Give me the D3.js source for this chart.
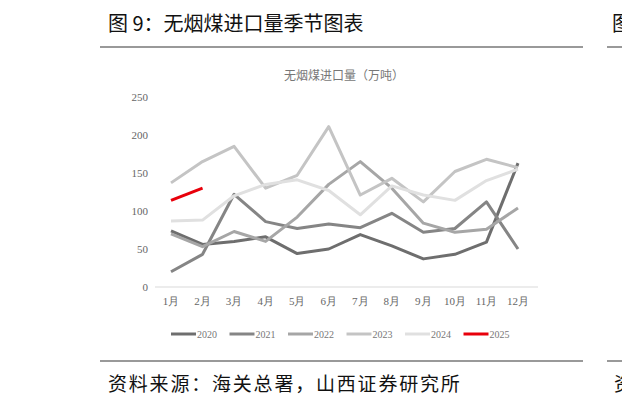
<!DOCTYPE html>
<html><head><meta charset="utf-8">
<script src="https://cdn.jsdelivr.net/npm/d3@7"></script>
<style>body{margin:0;background:#fff;}</style>
</head><body><div id="chart"></div>
<script>
var months = ["1月","2月","3月","4月","5月","6月","7月","8月","9月","10月","11月","12月"];
var years = ["2020","2021","2022","2023","2024","2025"];
var colors = ["#6e6e6e","#858585","#a6a6a6","#c4c4c4","#e0e0e0","#e8000b"];
var v2020 = [74,56,60,66,44,50,69,54,37,43,59,163];
var v2021 = [20,43,122,86,77,83,78,97,72,77,112,50];
var v2022 = [70,53,73,60,92,135,165,130,84,72,76,104];
var v2023 = [137,165,185,130,147,211,121,143,112,152,168,157];
var v2024 = [87,88,120,135,141,127,95,133,121,114,140,155];
var v2025 = [114,130];
var yTicks = [0,50,100,150,200,250];
var series = [v2020,v2021,v2022,v2023,v2024,v2025];

var svg = d3.select("#chart").append("svg").attr("width",622).attr("height",406);
var font = "'Noto Sans CJK SC', sans-serif";
var serif = "'Liberation Serif', serif";

// header
svg.append("text").text("图 9：无烟煤进口量季节图表").attr("x",108).attr("y",31)
  .attr("font-size",20).attr("font-family",font).attr("fill","#111");
svg.append("text").text("图").attr("x",612).attr("y",31)
  .attr("font-size",20).attr("font-family",font).attr("fill","#111");
[[100,583,47],[607,622,47],[100,583,361],[607,622,361]].forEach(function(l){
  svg.append("line").attr("x1",l[0]).attr("x2",l[1]).attr("y1",l[2]).attr("y2",l[2])
    .style("stroke","#777").style("stroke-width",1.5);
});
svg.append("text").text("资料来源：海关总署，山西证券研究所").attr("x",108).attr("y",391)
  .attr("font-size",19).attr("letter-spacing",1.8).attr("font-family",font).attr("fill","#111");
svg.append("text").text("资").attr("x",614).attr("y",391)
  .attr("font-size",19).attr("font-family",font).attr("fill","#111");

svg.append("text").text("无烟煤进口量（万吨）").attr("x",344).attr("y",80).attr("text-anchor","middle")
  .attr("font-size",12).attr("font-family",font).attr("fill","#777");

var x = d3.scalePoint().domain(months).range([171,518]);
var y = d3.scaleLinear().domain([0,250]).range([287,97]);

svg.append("line").attr("x1",155).attr("x2",538).attr("y1",y(0)).attr("y2",y(0))
  .style("stroke","#d9d9d9").style("stroke-width",1);

svg.selectAll("text.ytick").data(yTicks).enter().append("text").attr("class","ytick")
  .attr("x",148).attr("y",function(d){return y(d)+4}).attr("text-anchor","end")
  .attr("font-size",11).attr("font-family",serif).attr("fill","#666").text(function(d){return d});

svg.selectAll("text.xtick").data(months).enter().append("text").attr("class","xtick")
  .attr("x",function(d){return x(d)}).attr("y",305).attr("text-anchor","middle")
  .attr("font-size",11).attr("font-family",serif).attr("fill","#666").text(function(d){return d});

var line = d3.line().x(function(d,i){return x(months[i])}).y(function(d){return y(d)});
series.forEach(function(s,i){
  svg.append("path").attr("d",line(s)).attr("fill","none")
    .style("stroke",colors[i]).style("stroke-width",3).style("stroke-linejoin","round");
});

// legend
var lg = svg.append("g").attr("transform","translate(171,334)");
years.forEach(function(yr,i){
  var gx = i*58.5;
  lg.append("line").attr("x1",gx).attr("x2",gx+25).attr("y1",0).attr("y2",0)
    .style("stroke",colors[i]).style("stroke-width",3);
  lg.append("text").text(yr).attr("x",gx+26).attr("y",4).attr("font-size",10)
    .attr("font-family",serif).attr("fill","#777");
});
</script></body></html>
